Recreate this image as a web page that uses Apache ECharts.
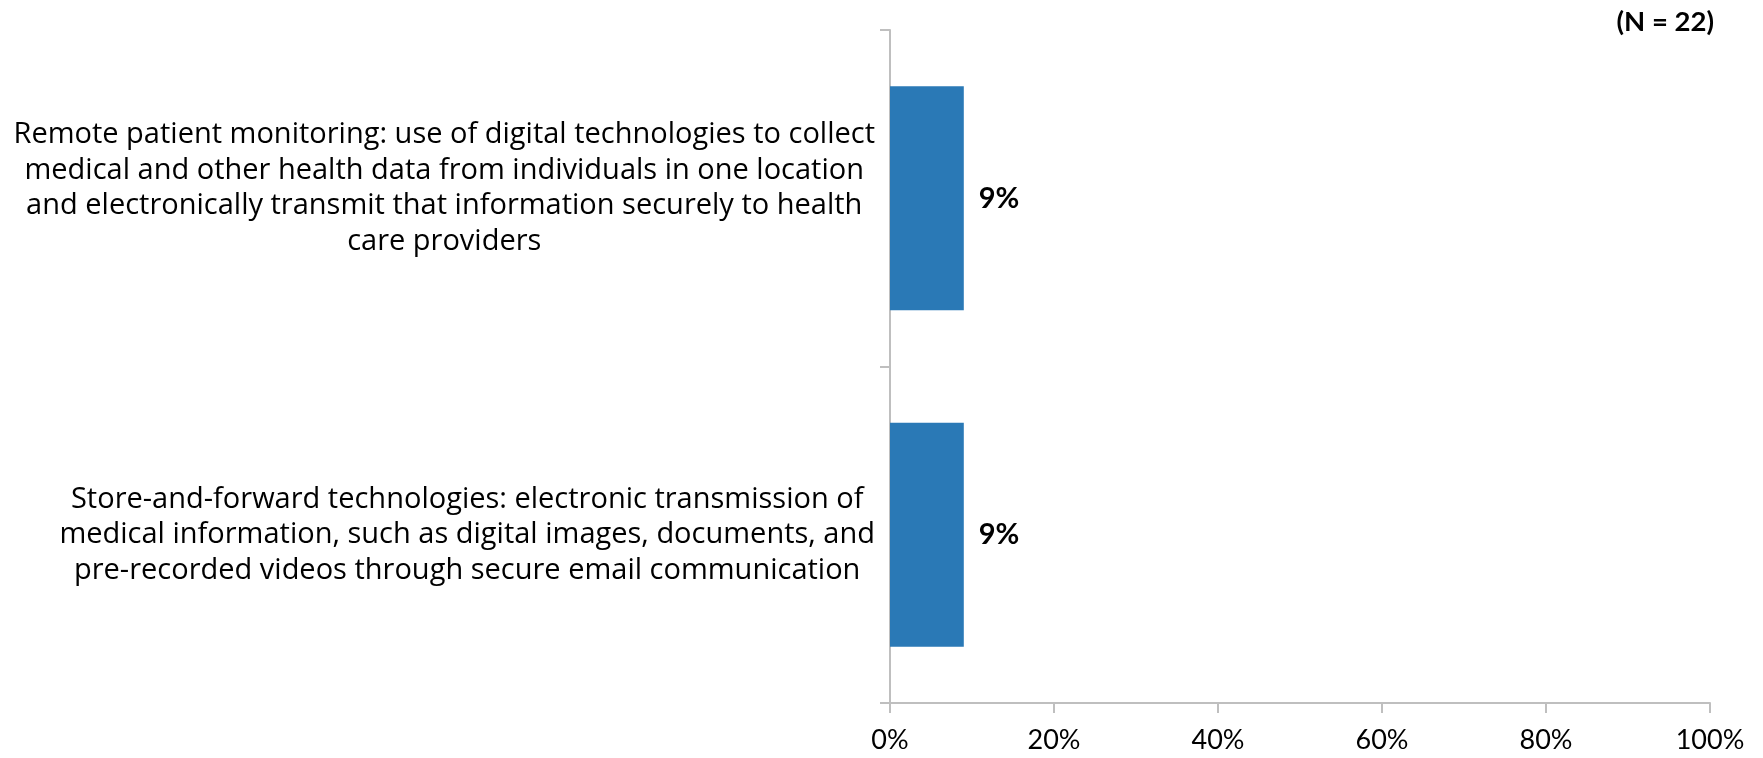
<!DOCTYPE html>
<html>
<head>
<meta charset="utf-8">
<script src="https://cdn.jsdelivr.net/npm/echarts@6/dist/echarts.min.js"></script>
<style>
  html, body { margin: 0; padding: 0; background: #ffffff; }
  #chart { width: 1763px; height: 758px; }
</style>
</head>
<body>
<div id="chart"></div>
<script>
// Telehealth modalities (share of respondents)
const categories = [
  'Remote patient monitoring: use of digital technologies to collect\nmedical and other health data from individuals in one location\nand electronically transmit that information securely to health\ncare providers',
  'Store-and-forward technologies: electronic transmission of\nmedical information, such as digital images, documents, and\npre-recorded videos through secure email communication'
];
const values = [9, 9];
const xTicks = { min: 0, max: 100, interval: 20 };
const sampleNote = '(N = 22)';

const FONT = 'Lato, "Open Sans", sans-serif';
const LABEL_FONT = '"Open Sans", Lato, sans-serif';
const AXIS_GREY = '#bfbfbf';

const chart = echarts.init(document.getElementById('chart'), null, { renderer: 'canvas' });

// Long (four-line) labels sit slightly above their band centre
const yData = categories.map(function (c) {
  return c.split('\n').length > 3
    ? { value: c, textStyle: { padding: [0, 0, 20, 0] } }
    : c;
});

chart.setOption({
  backgroundColor: '#ffffff',
  animation: false,
  title: {
    text: sampleNote,
    right: 44,
    top: 3,
    textStyle: { fontFamily: FONT, fontSize: 27.5, fontWeight: 'bold', color: '#000' }
  },
  grid: { left: 890, right: 53, top: 30, bottom: 55, containLabel: false },
  xAxis: {
    type: 'value',
    min: xTicks.min,
    max: xTicks.max,
    interval: xTicks.interval,
    axisLine: { show: true, lineStyle: { color: AXIS_GREY, width: 2 } },
    axisTick: { show: true, length: 10, lineStyle: { color: AXIS_GREY, width: 2 } },
    splitLine: { show: false },
    axisLabel: {
      formatter: '{value}%',
      margin: 24,
      fontFamily: FONT,
      fontSize: 27,
      color: '#000'
    }
  },
  yAxis: {
    type: 'category',
    inverse: true,
    data: yData,
    axisLine: { show: true, lineStyle: { color: AXIS_GREY, width: 2 } },
    axisTick: { show: true, length: 10, lineStyle: { color: AXIS_GREY, width: 2 } },
    axisLabel: {
      margin: 15,
      formatter: function (v) {
        return v.split('\n').map(function (l) { return '{c|' + l + '}'; }).join('\n');
      },
      rich: {
        c: { align: 'center', fontFamily: LABEL_FONT, fontSize: 29, lineHeight: 35.5, color: '#000' }
      }
    }
  },
  series: [{
    type: 'bar',
    data: values,
    barCategoryGap: '33.5%',
    itemStyle: { color: '#2a79b6' },
    label: {
      show: true,
      position: 'right',
      distance: 15,
      formatter: '{c}%',
      fontFamily: FONT,
      fontSize: 29,
      fontWeight: 'bold',
      color: '#000'
    }
  }]
});
</script>
</body>
</html>
